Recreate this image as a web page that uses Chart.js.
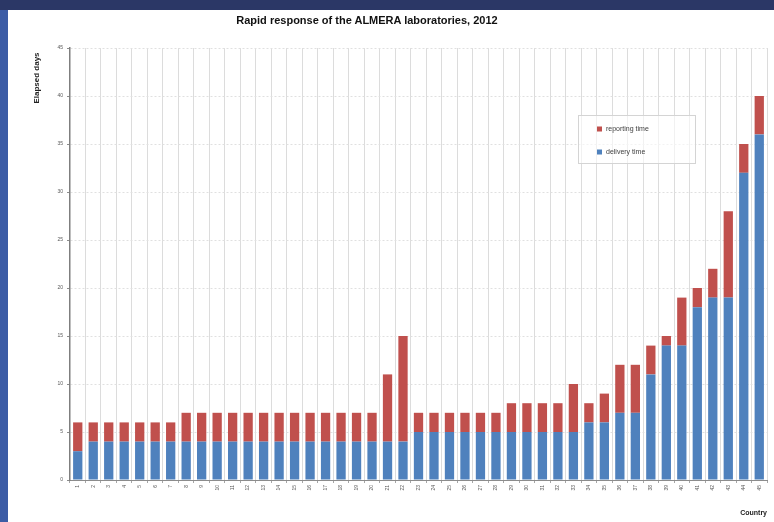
<!DOCTYPE html>
<html>
<head>
<meta charset="utf-8">
<title>Rapid response of the ALMERA laboratories, 2012</title>
<script src="https://cdn.jsdelivr.net/npm/chart.js@4.4.1/dist/chart.umd.min.js"></script>
<style>
  html, body { margin: 0; padding: 0; }
  body { width: 774px; height: 522px; background: #3c5ca5; position: relative; overflow: hidden; }
  .topband { position: absolute; left: 0; top: 0; width: 774px; height: 10px; background: #2b3766; }
  .panel { position: absolute; left: 8px; top: 10px; width: 766px; height: 512px; background: #fff; }
  .title { position: absolute; left: 0; top: 14px; width: 734px; text-align: center;
           font: bold 11px "Liberation Sans", Arial, sans-serif; color: #111; line-height: 13px; }
</style>
</head>
<body>
<div class="topband"></div>
<div class="panel">
  <div style="position: relative; width: 766px; height: 512px;">
    <canvas id="bar-chart"></canvas>
  </div>
</div>
<div class="title">Rapid response of the ALMERA laboratories, 2012</div>

<script>
// one bar per laboratory (labels on the original are unreadable, so numbered)
const labs = Array.from({ length: 45 }, (_, i) => String(i + 1));

// days
const deliveryTime = [3, 4, 4, 4, 4, 4, 4,
  4, 4, 4, 4, 4, 4, 4, 4, 4, 4, 4, 4, 4,
  4, 4,
  5, 5, 5, 5, 5, 5,
  5, 5, 5, 5, 5,
  6, 6, 7, 7, 11, 14, 14, 18, 19, 19, 32, 36];
const reportingTime = [3, 2, 2, 2, 2, 2, 2,
  3, 3, 3, 3, 3, 3, 3, 3, 3, 3, 3, 3, 3,
  7, 11,
  2, 2, 2, 2, 2, 2,
  3, 3, 3, 3, 5,
  2, 3, 5, 5, 3, 1, 5, 2, 3, 9, 3, 4];

const yTicks = [0, 5, 10, 15, 20, 25, 30, 35, 40, 45];

// legend box drawn inside the plot, reporting time on top like the original
const legendBox = {
  id: 'legendBox',
  afterDraw(chart) {
    const { ctx, chartArea } = chart;
    const x = chartArea.left + 508;
    const y = chartArea.top + 67;
    const sets = chart.data.datasets.slice().reverse();
    ctx.save();
    ctx.fillStyle = 'rgba(255,255,255,0.6)';
    ctx.fillRect(x, y, 117, 48);
    ctx.strokeStyle = '#d4d4d4';
    ctx.lineWidth = 1;
    ctx.strokeRect(x + 0.5, y + 0.5, 117, 48);
    ctx.font = '7px "Liberation Sans", Arial, sans-serif';
    ctx.textBaseline = 'middle';
    sets.forEach((ds, i) => {
      const cy = y + 14 + i * 23;
      ctx.fillStyle = ds.backgroundColor;
      ctx.fillRect(x + 19, cy - 2.5, 5, 5);
      ctx.fillStyle = '#404040';
      ctx.fillText(ds.label, x + 28, cy);
    });
    ctx.restore();
  }
};

const ctx = document.getElementById('bar-chart').getContext('2d');
new Chart(ctx, {
  type: 'bar',
  data: {
    labels: labs,
    datasets: [
      {
        label: 'delivery time',
        data: deliveryTime,
        backgroundColor: '#4f81bd',
        barPercentage: 0.6,
        categoryPercentage: 1.0,
      },
      {
        label: 'reporting time',
        data: reportingTime,
        backgroundColor: '#c0504d',
        barPercentage: 0.6,
        categoryPercentage: 1.0,
      },
    ],
  },
  options: {
    responsive: true,
    maintainAspectRatio: false,
    animation: false,
    layout: { padding: { top: 38, right: 7, left: 0, bottom: 0 } },
    plugins: {
      legend: { display: false },
      title: { display: false },
      tooltip: { enabled: false },
    },
    scales: {
      x: {
        stacked: true,
        afterFit: (s) => { s.height = 42; },
        ticks: {
          minRotation: 90,
          maxRotation: 90,
          autoSkip: false,
          padding: 2,
          color: '#595959',
          font: { size: 5, family: '"Liberation Sans", Arial, sans-serif' },
        },
        grid: { color: '#dcdcdc', tickLength: 3, tickColor: '#a6a6a6', offset: true },
        border: { color: '#8c8c8c', width: 1 },
        title: {
          display: true,
          text: 'Country',
          align: 'end',
          color: '#222',
          padding: { top: 0, bottom: 5 },
          font: { size: 7, weight: 'bold', family: '"Liberation Sans", Arial, sans-serif' },
        },
      },
      y: {
        stacked: true,
        min: 0,
        max: 45,
        afterFit: (s) => { s.width = 62; },
        afterBuildTicks: (s) => { s.ticks = yTicks.map(v => ({ value: v })); },
        ticks: {
          padding: 4,
          color: '#595959',
          font: { size: 5, family: '"Liberation Sans", Arial, sans-serif' },
        },
        grid: { color: '#e0e0e0', tickLength: 3, tickColor: '#8c8c8c' },
        border: { color: '#7f7f7f', width: 1.5, dash: [2, 2] },
        title: {
          display: true,
          text: 'Elapsed days  ',
          align: 'end',
          color: '#222',
          padding: { top: 24, bottom: 0 },
          font: { size: 8, weight: 'bold', family: '"Liberation Sans", Arial, sans-serif' },
        },
      },
    },
  },
  plugins: [legendBox],
});
</script>
</body>
</html>
